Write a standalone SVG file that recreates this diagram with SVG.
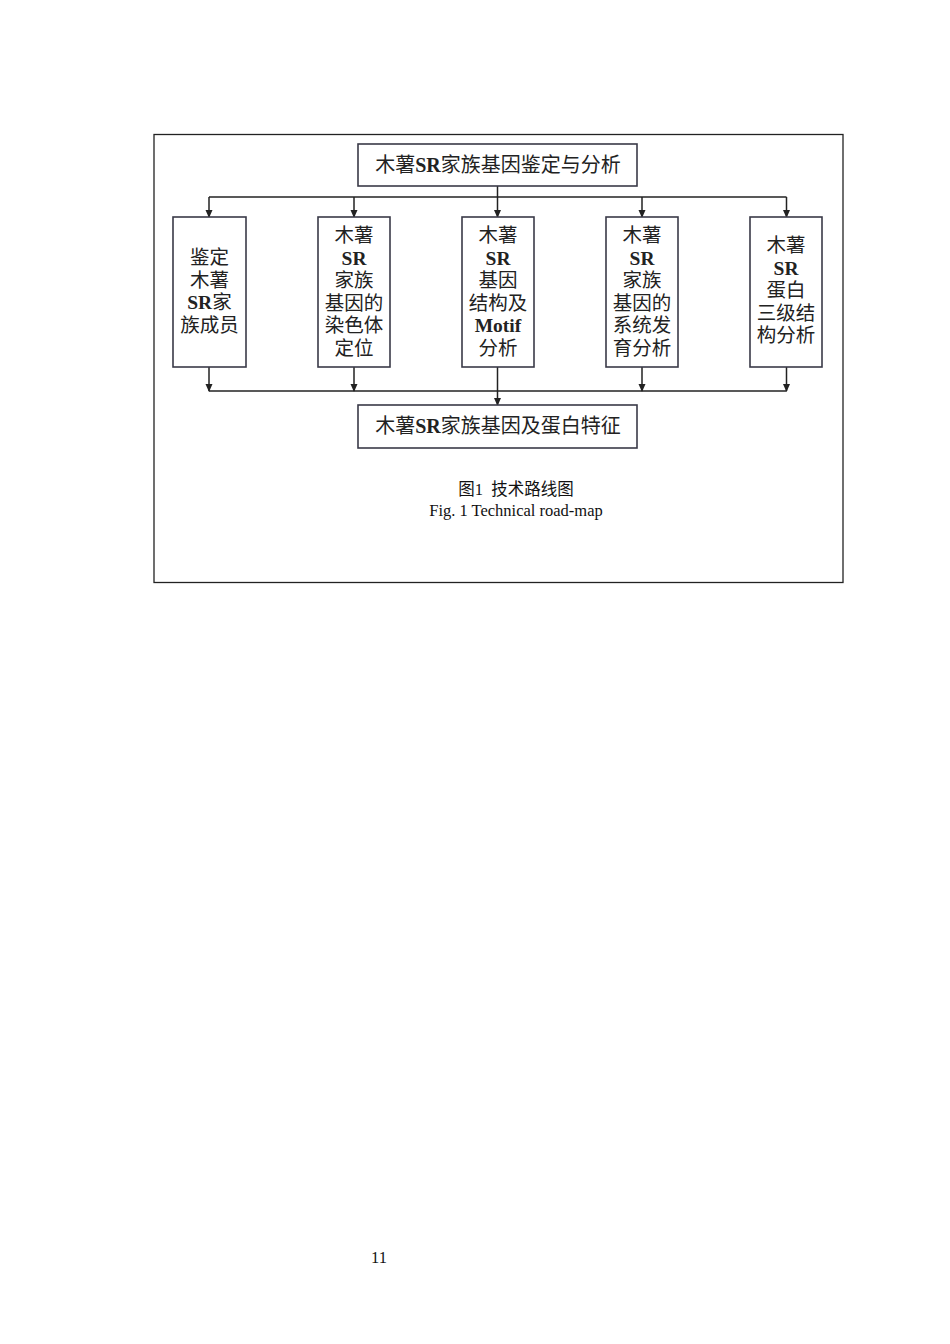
<svg xmlns="http://www.w3.org/2000/svg" width="950" height="1344" viewBox="0 0 950 1344">
<style>
.box{fill:#fff;stroke:#3a3a48;stroke-width:1.6}
.t{font-family:"Liberation Serif","Noto Sans CJK SC",serif;font-size:19.5px;fill:#222;text-anchor:middle}
.tt{font-size:20px}
.b{font-weight:bold}
.c{font-family:"Liberation Serif","Noto Sans CJK SC",serif;font-size:16.5px;fill:#111;text-anchor:middle}
.ln{stroke:#222;stroke-width:1.5;fill:none}
</style>
<defs>
<marker id="ah" markerWidth="8" markerHeight="8" refX="7" refY="4" orient="auto" markerUnits="userSpaceOnUse">
<path d="M0,0.5 L8,4 L0,7.5 Z" fill="#222"/>
</marker>
</defs>
<rect x="0" y="0" width="950" height="1344" fill="#fff"/>
<rect x="154" y="134.5" width="689" height="448" fill="none" stroke="#222" stroke-width="1.3"/>
<g id="connectors">
<path class="ln" d="M497.5,186 V197"/>
<path class="ln" d="M209,197 H786.5"/>
<path class="ln" d="M209,197 V217" marker-end="url(#ah)"/>
<path class="ln" d="M354,197 V217" marker-end="url(#ah)"/>
<path class="ln" d="M497.5,197 V217" marker-end="url(#ah)"/>
<path class="ln" d="M642,197 V217" marker-end="url(#ah)"/>
<path class="ln" d="M786.5,197 V217" marker-end="url(#ah)"/>
<path class="ln" d="M209,367 V391" marker-end="url(#ah)"/>
<path class="ln" d="M354,367 V391" marker-end="url(#ah)"/>
<path class="ln" d="M642,367 V391" marker-end="url(#ah)"/>
<path class="ln" d="M786.5,367 V391" marker-end="url(#ah)"/>
<path class="ln" d="M209,391 H786.5"/>
<path class="ln" d="M497.5,367 V405" marker-end="url(#ah)"/>
</g>
<g id="top">
<rect class="box" x="358" y="144" width="279" height="42"/>
<text class="t tt" x="498" y="172">木薯<tspan class="b">SR</tspan>家族基因鉴定与分析</text>
</g>
<g id="n1">
<rect class="box" x="173" y="217" width="73" height="150"/>
<text class="t" x="209.5" y="264">鉴定</text>
<text class="t" x="209.5" y="286.5">木薯</text>
<text class="t" x="209.5" y="309"><tspan class="b">SR</tspan>家</text>
<text class="t" x="209.5" y="331.5">族成员</text>
</g>
<g id="n2">
<rect class="box" x="318" y="217" width="72" height="150"/>
<text class="t" x="354" y="242">木薯</text>
<text class="t b" x="354" y="264.5">SR</text>
<text class="t" x="354" y="287">家族</text>
<text class="t" x="354" y="309.5">基因的</text>
<text class="t" x="354" y="332">染色体</text>
<text class="t" x="354" y="354.5">定位</text>
</g>
<g id="n3">
<rect class="box" x="462" y="217" width="72" height="150"/>
<text class="t" x="498" y="242">木薯</text>
<text class="t b" x="498" y="264.5">SR</text>
<text class="t" x="498" y="287">基因</text>
<text class="t" x="498" y="309.5">结构及</text>
<text class="t b" x="498" y="332">Motif</text>
<text class="t" x="498" y="354.5">分析</text>
</g>
<g id="n4">
<rect class="box" x="606" y="217" width="72" height="150"/>
<text class="t" x="642" y="242">木薯</text>
<text class="t b" x="642" y="264.5">SR</text>
<text class="t" x="642" y="287">家族</text>
<text class="t" x="642" y="309.5">基因的</text>
<text class="t" x="642" y="332">系统发</text>
<text class="t" x="642" y="354.5">育分析</text>
</g>
<g id="n5">
<rect class="box" x="750" y="217" width="72" height="150"/>
<text class="t" x="786" y="252">木薯</text>
<text class="t b" x="786" y="274.5">SR</text>
<text class="t" x="786" y="297">蛋白</text>
<text class="t" x="786" y="319.5">三级结</text>
<text class="t" x="786" y="342">构分析</text>
</g>
<g id="bottom">
<rect class="box" x="358" y="405" width="279" height="43"/>
<text class="t tt" x="498" y="433">木薯<tspan class="b">SR</tspan>家族基因及蛋白特征</text>
</g>
<g id="caption">
<text class="c" x="516" y="495">图1&#160;&#160;技术路线图</text>
<text class="c" x="516" y="516">Fig. 1 Technical road-map</text>
</g>
<text class="c" x="379" y="1263">11</text>
</svg>
